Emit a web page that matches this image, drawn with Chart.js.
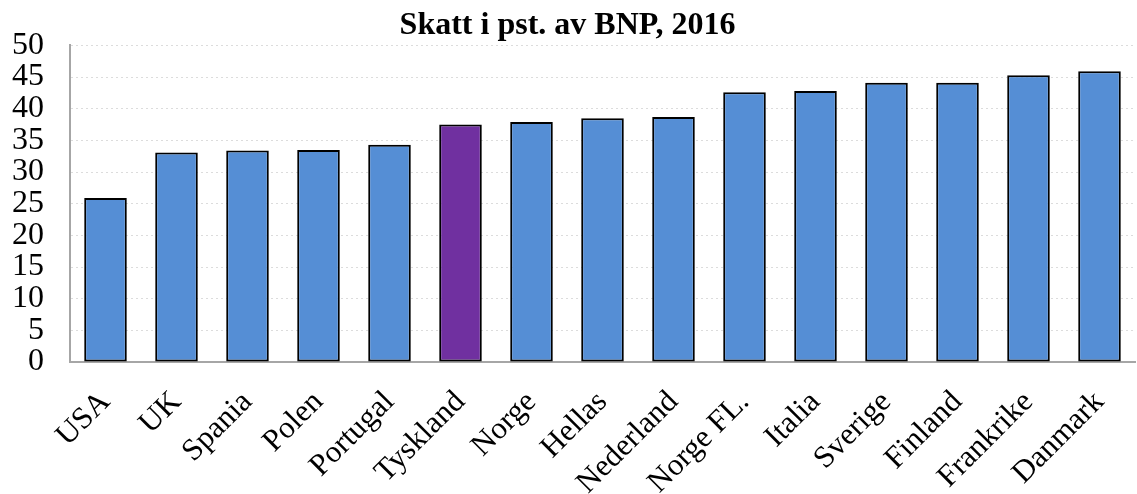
<html>
<head>
    <meta charset="utf-8">
    <title>Skatt i pst. av BNP, 2016</title>
    <script src="https://cdn.jsdelivr.net/npm/chart.js"></script>
    <style>
        body { margin: 0; background: #fff; }
        .container { width: 1137px; height: 494px; }
    </style>
</head>
<body>

<div class="container">
    <canvas id="myChart"></canvas>
</div>
<script>

    var countries = ["USA", "UK", "Spania", "Polen", "Portugal", "Tyskland", "Norge", "Hellas",
        "Nederland", "Norge FL.", "Italia", "Sverige", "Finland", "Frankrike", "Danmark"];
    var taxShare = [25.9, 33.1, 33.4, 33.5, 34.3, 37.5, 37.9, 38.5, 38.7, 42.6, 42.8, 44.1, 44.1, 45.3, 45.9];
    var highlight = "Tyskland";

    var serif = "'Liberation Serif', 'Times New Roman', serif";
    var barColors = countries.map(function (c) {
        return c == highlight ? "#7030A0" : "#558ED5";
    });

    const config = {
        type: 'bar',
        data: {
            labels: countries,
            datasets: [{
                label: "Skatt i pst. av BNP",
                data: taxShare,
                backgroundColor: barColors,
                borderColor: "#000",
                borderWidth: 2,
                borderSkipped: false,
                barPercentage: 0.6,
                categoryPercentage: 1.0
            }]
        },
        options: {
            responsive: true,
            maintainAspectRatio: false,
            animation: false,
            layout: {
                padding: { left: 0, right: 2, top: 7, bottom: 0 }
            },
            plugins: {
                legend: { display: false },
                tooltip: { enabled: false },
                title: {
                    display: true,
                    text: "Skatt i pst. av BNP, 2016",
                    color: "#000",
                    font: { family: serif, size: 32, weight: "bold" },
                    padding: { top: 0, bottom: 0 }
                }
            },
            scales: {
                x: {
                    grid: { display: false, drawTicks: false },
                    border: { color: "#a6a6a6", width: 2 },
                    ticks: {
                        color: "#000",
                        font: { family: serif, size: 31 },
                        minRotation: 45,
                        maxRotation: 45,
                        autoSkip: false,
                        padding: 22
                    },
                    afterFit: function (scale) {
                        // rotated labels: keep the plot as wide and tall as in the original
                        scale.height = 132;
                        scale.paddingLeft = 0;
                        scale.paddingRight = 0;
                    }
                },
                y: {
                    min: 0,
                    max: 50,
                    grid: { color: "#dcdcdc", drawTicks: false, lineWidth: 1 },
                    border: { color: "#a6a6a6", width: 2, dash: [2, 3] },
                    ticks: {
                        stepSize: 5,
                        autoSkip: false,
                        color: "#000",
                        font: { family: serif, size: 32 },
                        padding: 26
                    },
                    afterFit: function (scale) {
                        scale.width = 70;
                    }
                }
            }
        }
    };
    const myChart = new Chart(document.getElementById('myChart'), config);

</script>

</body>
</html>
